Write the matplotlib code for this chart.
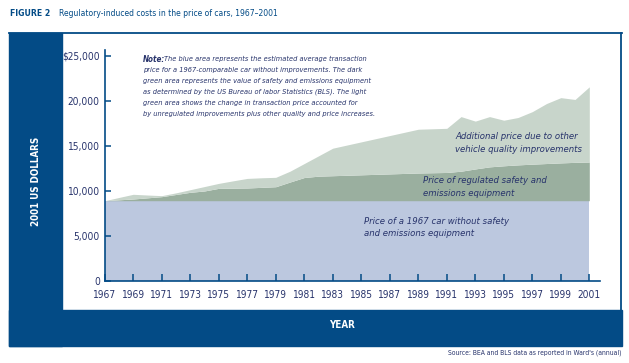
import matplotlib
matplotlib.use("Agg")
import matplotlib.pyplot as plt
from matplotlib.patches import Rectangle
from matplotlib.lines import Line2D
import numpy as np

# ---------------- data ----------------
years = [1967, 1968, 1969, 1970, 1971, 1972, 1973, 1974, 1975, 1976, 1977, 1978,
         1979, 1980, 1981, 1982, 1983, 1984, 1985, 1986, 1987, 1988, 1989, 1990,
         1991, 1992, 1993, 1994, 1995, 1996, 1997, 1998, 1999, 2000, 2001]

# price of a 1967-comparable car (blue area top)
price_1967_car = [8930, 8930, 8930, 8930, 8930, 8930, 8930, 8930, 8930, 8930,
                  8930, 8930, 8930, 8930, 8930, 8930, 8930, 8930, 8930, 8930,
                  8930, 8930, 8930, 8930, 8930, 8930, 8930, 8930, 8930, 8930,
                  8930, 8930, 8930, 8930, 8930]

# plus regulated safety and emissions equipment (dark green top)
with_regulated_equipment = [8930, 9030, 9120, 9250, 9380, 9620, 9860, 10010, 10300,
                            10320, 10340, 10410, 10480, 11000, 11500, 11650, 11700,
                            11750, 11800, 11850, 11900, 11950, 12000, 12030, 12060,
                            12200, 12450, 12680, 12800, 12900, 12980, 13050, 13120,
                            13180, 13220]

# average transaction price (light green top)
transaction_price = [8930, 9290, 9640, 9560, 9490, 9800, 10150, 10500, 10850,
                     11130, 11400, 11470, 11520, 12200, 13050, 13900, 14750,
                     15100, 15450, 15800, 16150, 16500, 16850, 16900, 16950,
                     18250, 17750, 18250, 17850, 18150, 18800, 19700, 20350,
                     20150, 21550]

x_ticks = list(range(1967, 2002, 2))
y_ticks = [0, 5000, 10000, 15000, 20000, 25000]
y_tick_labels = ["0", "5,000", "10,000", "15,000", "20,000", "$25,000"]

# ---------------- style ----------------
NAVY = "#034b86"
TEXT = "#27336b"
BLUE = "#bcc8df"
DARK_GREEN = "#9aaf9f"
LIGHT_GREEN = "#c8d5cb"
FAM = "DejaVu Sans"
ST = "condensed"

W, H = 629, 363
fig = plt.figure(figsize=(W / 100, H / 100), dpi=100)
fig.patch.set_facecolor("white")


def fx(px):
    return px / W


def fy(py):
    return 1 - py / H


# frame
fig.patches.append(Rectangle((fx(9), fy(346)), (62 - 9) / W, (346 - 32.5) / H,
                             transform=fig.transFigure, color=NAVY, zorder=0))
fig.patches.append(Rectangle((fx(9), fy(346)), (622 - 9) / W, (346 - 310) / H,
                             transform=fig.transFigure, color=NAVY, zorder=0))
fig.lines.append(Line2D([fx(9), fx(622)], [fy(32.8), fy(32.8)],
                        transform=fig.transFigure, color=NAVY, lw=1.3))
fig.lines.append(Line2D([fx(621.3), fx(621.3)], [fy(32.5), fy(346)],
                        transform=fig.transFigure, color=NAVY, lw=1.3))

# title
fig.text(fx(10), fy(13), "FIGURE 2", family=FAM, stretch=ST, weight="bold", size=6.2,
         color=NAVY, va="center", ha="left")
fig.text(fx(59), fy(13), "Regulatory-induced costs in the price of cars, 1967\u20132001",
         family=FAM, stretch=ST, size=6.1, color=NAVY, va="center", ha="left")

# axes
ax_left, ax_right = 104.7, 600
ax_top, ax_bottom = 50, 281.3
ax = fig.add_axes([fx(ax_left), fy(ax_bottom), (ax_right - ax_left) / W,
                   (ax_bottom - ax_top) / H])
ax.set_facecolor("white")

yrs = np.array(years)
ax.fill_between(yrs, 0, price_1967_car, color=BLUE, lw=0, zorder=1)
ax.fill_between(yrs, price_1967_car, with_regulated_equipment, color=DARK_GREEN,
                lw=0, zorder=1)
ax.fill_between(yrs, with_regulated_equipment, transaction_price, color=LIGHT_GREEN,
                lw=0, zorder=1)

ax.set_xlim(1967, 2001.75)
ax.set_ylim(0, 25630)
for s in ["top", "right"]:
    ax.spines[s].set_visible(False)
for s in ["left", "bottom"]:
    ax.spines[s].set_color(NAVY)
    ax.spines[s].set_linewidth(1.2)
    ax.spines[s].set_zorder(3)

ax.set_xticks(x_ticks)
ax.set_xticklabels([str(y) for y in x_ticks], family=FAM, stretch=ST, size=7.3,
                   color=TEXT)
ax.set_yticks(y_ticks)
ax.set_yticklabels(y_tick_labels, family=FAM, stretch=ST, size=7.3, color=TEXT)
ax.tick_params(axis="x", direction="in", length=5.2, width=1.1, color=NAVY, pad=6.5)
ax.tick_params(axis="y", direction="in", length=4.5, width=1.1, color=NAVY, pad=3.5)

# axis titles
fig.text(fx(36), fy(181.7), "2001 US DOLLARS", rotation=90, family=FAM, stretch=ST,
         weight="bold", size=7, color="white", ha="center", va="center")
fig.text(fx(341.7), fy(325), "YEAR", family=FAM, stretch=ST, weight="bold", size=7,
         color="white", ha="center", va="center")

# note
note_lines = [
    "The blue area represents the estimated average transaction",
    "price for a 1967-comparable car without improvements. The dark",
    "green area represents the value of safety and emissions equipment",
    "as determined by the US Bureau of labor Statistics (BLS). The light",
    "green area shows the change in transaction price accounted for",
    "by unregulated improvements plus other quality and price increases.",
]
note_y = [59, 70, 81, 92, 103, 113.7]
fig.text(fx(142.7), fy(note_y[0]), "Note:", family=FAM, stretch=ST, weight="bold",
         style="italic", size=5.8, color=TEXT, va="center", ha="left")
fig.text(fx(164), fy(note_y[0]), note_lines[0], family=FAM, stretch=ST,
         style="italic", size=5.3, color=TEXT, va="center", ha="left")
for line, yy in zip(note_lines[1:], note_y[1:]):
    fig.text(fx(142.7), fy(yy), line, family=FAM, stretch=ST, style="italic",
             size=5.3, color=TEXT, va="center", ha="left")


# area labels
def label(px, lines, ys):
    for l, yy in zip(lines, ys):
        fig.text(fx(px), fy(yy), l, family=FAM, stretch=ST, style="italic", size=6.8,
                 color=TEXT, va="center", ha="left")


label(455, ["Additional price due to other", "vehicle quality improvements"],
      [136.7, 149.3])
label(423.3, ["Price of regulated safety and", "emissions equipment"],
      [180.7, 193.3])
label(364.3, ["Price of a 1967 car without safety", "and emissions equipment"],
      [221.7, 233.3])

# source
fig.text(fx(621), fy(352.7), "Source: BEA and BLS data as reported in Ward's (annual)",
         family=FAM, stretch=ST, size=4.9, color=TEXT, va="center", ha="right")

fig.savefig("out.png", dpi=100, facecolor="white")
